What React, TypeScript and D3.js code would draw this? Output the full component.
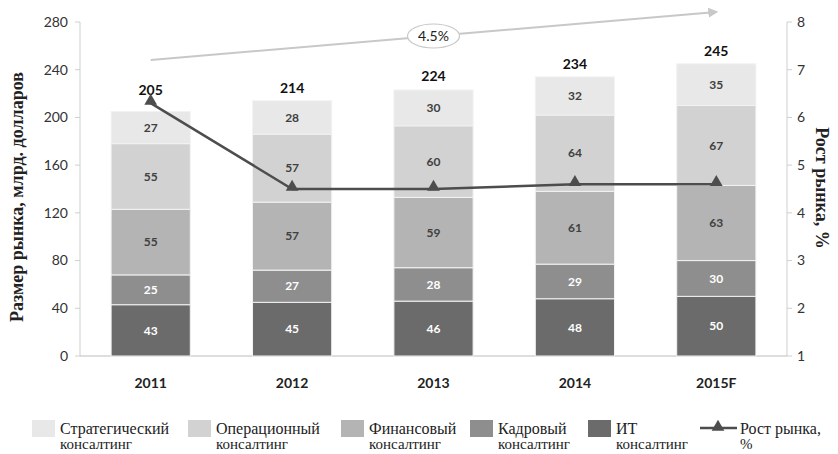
import * as d3 from 'd3';

const years = ['2011', '2012', '2013', '2014', '2015F'];
const itValues = [43, 45, 46, 48, 50];
const hrValues = [25, 27, 28, 29, 30];
const finValues = [55, 57, 59, 61, 63];
const opsValues = [55, 57, 60, 64, 67];
const stratValues = [27, 28, 30, 32, 35];
const totals = [205, 214, 224, 234, 245];
const growth = [6.3, 4.5, 4.5, 4.6, 4.6];
const leftTicks = [0, 40, 80, 120, 160, 200, 240, 280];
const rightTicks = [1, 2, 3, 4, 5, 6, 7, 8];
const cagrLabel = '4.5%';

const series = [
  { key: 'it', name: ['ИТ', 'консалтинг'], values: itValues, color: '#6b6b6b', text: '#ffffff' },
  { key: 'hr', name: ['Кадровый', 'консалтинг'], values: hrValues, color: '#8e8e8e', text: '#ffffff' },
  { key: 'fin', name: ['Финансовый', 'консалтинг'], values: finValues, color: '#b4b4b4', text: '#404040' },
  { key: 'ops', name: ['Операционный', 'консалтинг'], values: opsValues, color: '#d2d2d2', text: '#404040' },
  { key: 'strat', name: ['Стратегический', 'консалтинг'], values: stratValues, color: '#e8e8e8', text: '#404040' },
];

const W = 838;
const H = 454;
const left = 80;
const right = 787;
const top = 22;
const bottom = 356;

const sansFont = 'Lato, "Open Sans", sans-serif';
const serifFont = "'Liberation Serif', 'Times New Roman', 'DejaVu Serif', serif";

export default function App() {
  const x = d3.scaleBand().domain(years).range([left, right]).paddingInner(0.44).paddingOuter(0.22);
  const y = d3.scaleLinear().domain([0, 280]).range([bottom, top]);
  const y2 = d3.scaleLinear().domain([1, 8]).range([bottom, top]);

  const rows = years.map((yr, i) => {
    const r: Record<string, any> = { year: yr };
    series.forEach((s) => (r[s.key] = s.values[i]));
    return r;
  });
  const stack = d3.stack().keys(series.map((s) => s.key))(rows as any);

  const line = d3
    .line<number>()
    .x((_, i) => (x(years[i]) as number) + x.bandwidth() / 2)
    .y((d) => y2(d));

  const tri = d3.symbol().type(d3.symbolTriangle).size(70)();

  const cx = (i: number) => (x(years[i]) as number) + x.bandwidth() / 2;

  // trend arrow from first to last category
  const ax1 = cx(0);
  const ax2 = cx(years.length - 1);
  const ay1 = 60;
  const ay2 = 12;
  const midX = cx(2);
  const midY = ay1 + ((midX - ax1) / (ax2 - ax1)) * (ay2 - ay1);

  const legendItems = [
    { s: series[4], x: 32 },
    { s: series[3], x: 188 },
    { s: series[2], x: 341 },
    { s: series[1], x: 470 },
    { s: series[0], x: 588 },
  ];

  const serifStyle = { fontFamily: serifFont };

  return (
    <svg width={W} height={H} style={{ position: 'absolute', left: 0, top: 0, background: '#fff' }}>
      <defs>
        <marker id="arr" viewBox="0 0 10 10" refX="8" refY="5" markerWidth="5" markerHeight="5" orient="auto">
          <path d="M0,0 L10,5 L0,10 z" fill="#c8c8c8" />
        </marker>
      </defs>

      {/* left axis */}
      <line x1={left} x2={left} y1={top} y2={bottom} stroke="#cfcfcf" />
      {leftTicks.map((t) => (
        <g key={'l' + t}>
          <line x1={left - 5} x2={left} y1={y(t)} y2={y(t)} stroke="#cfcfcf" />
          <text x={left - 12} y={y(t)} dy="0.35em" textAnchor="end" fontFamily={sansFont} fontSize={14} fill="#333">
            {t}
          </text>
        </g>
      ))}
      {/* right axis */}
      <line x1={right} x2={right} y1={top} y2={bottom} stroke="#cfcfcf" />
      {rightTicks.map((t) => (
        <g key={'r' + t}>
          <line x1={right} x2={right + 5} y1={y2(t)} y2={y2(t)} stroke="#cfcfcf" />
          <text x={right + 10} y={y2(t)} dy="0.35em" textAnchor="start" fontFamily={sansFont} fontSize={14} fill="#333">
            {t}
          </text>
        </g>
      ))}
      <line x1={left} x2={right} y1={bottom} y2={bottom} stroke="#bdbdbd" />

      {/* stacked bars */}
      {stack.map((layer, li) =>
        layer.map((d, i) => {
          const s = series[li];
          const bx = x(years[i]) as number;
          const y0 = y(d[0]);
          const y1v = y(d[1]);
          return (
            <g key={s.key + i}>
              <rect x={bx} y={y1v} width={x.bandwidth()} height={y0 - y1v} fill={s.color} stroke="#f2f2f2" strokeWidth={1} />
              <text
                x={bx + x.bandwidth() / 2}
                y={(y0 + y1v) / 2}
                dy="0.35em"
                textAnchor="middle"
                fontFamily={sansFont}
                fontSize={12}
                fontWeight={700}
                fill={s.text}
              >
                {s.values[i]}
              </text>
            </g>
          );
        })
      )}

      {/* category labels */}
      {years.map((yr, i) => (
        <text key={yr} x={cx(i)} y={383} dy="0.35em" textAnchor="middle" fontFamily={sansFont} fontSize={14} fontWeight={700} fill="#222">
          {yr}
        </text>
      ))}

      {/* totals */}
      {totals.map((t, i) => (
        <text
          key={'t' + i}
          x={cx(i)}
          y={Math.min(y(t) - 8, y2(growth[i]) - 8)}
          textAnchor="middle"
          fontFamily={sansFont}
          fontSize={14}
          fontWeight={700}
          fill="#111"
        >
          {t}
        </text>
      ))}

      {/* growth line */}
      <path d={line(growth) as string} fill="none" stroke="#4d4d4d" strokeWidth={2.5} />
      {growth.map((g, i) => (
        <path key={'m' + i} d={tri as string} transform={`translate(${cx(i)},${y2(g) - 2})`} fill="#4d4d4d" />
      ))}

      {/* trend arrow */}
      <line x1={ax1} y1={ay1} x2={ax2} y2={ay2} stroke="#c8c8c8" strokeWidth={2} markerEnd="url(#arr)" />
      <ellipse cx={midX} cy={midY} rx={26} ry={12} fill="#fff" stroke="#c8c8c8" strokeWidth={1.2} />
      <text x={midX} y={midY} dy="0.35em" textAnchor="middle" fontFamily={sansFont} fontSize={14} fill="#222">
        {cagrLabel}
      </text>

      {/* axis titles */}
      <text
        transform={`translate(23,${(top + bottom) / 2 + 8}) rotate(-90)`}
        textAnchor="middle"
        style={serifStyle}
        fontSize={18}
        fontWeight={700}
        fill="#222"
      >
        Размер рынка, млрд. долларов
      </text>
      <text
        transform={`translate(816,188) rotate(90)`}
        textAnchor="middle"
        style={serifStyle}
        fontSize={18}
        fontWeight={700}
        fill="#222"
      >
        Рост рынка, %
      </text>

      {/* legend */}
      {legendItems.map(({ s, x: lx }) => (
        <g key={'lg' + s.key}>
          <rect x={lx} y={420} width={23} height={17} fill={s.color} />
          <text x={lx + 28} y={428} dy="0.35em" style={serifStyle} fontSize={16} fill="#222">
            {s.name[0]}
          </text>
          <text x={lx + 28} y={444} dy="0.35em" style={serifStyle} fontSize={15} fill="#222">
            {s.name[1]}
          </text>
        </g>
      ))}
      <g>
        <line x1={700} x2={737} y1={428} y2={428} stroke="#4d4d4d" strokeWidth={2.5} />
        <path d={tri as string} transform="translate(718,427)" fill="#4d4d4d" />
        <text x={740} y={428} dy="0.35em" style={serifStyle} fontSize={16} fill="#222">
          Рост рынка,
        </text>
        <text x={740} y={444} dy="0.35em" style={serifStyle} fontSize={15} fill="#222">
          %
        </text>
      </g>
    </svg>
  );
}
